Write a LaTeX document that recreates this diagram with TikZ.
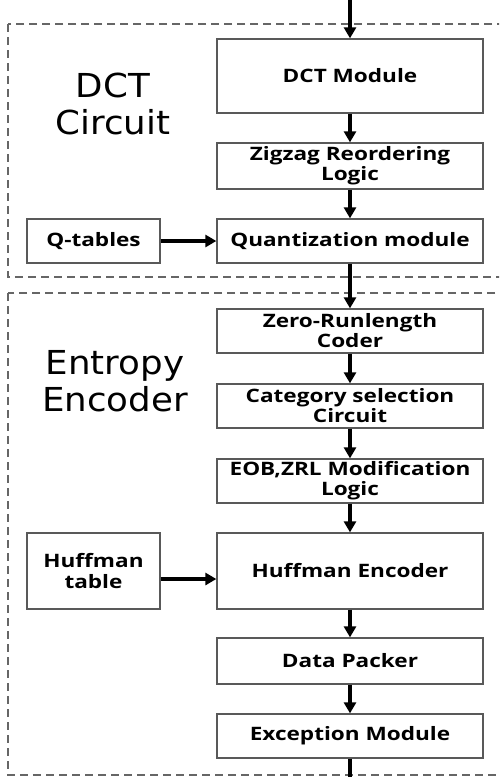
\documentclass[tikz,border=0pt]{standalone}
\usepackage{fontspec}
\setmainfont[FakeStretch=1.22]{Open Sans}
\newfontfamily\bigfont[FakeStretch=1.08]{DejaVu Sans}
\usetikzlibrary{arrows.meta}
\begin{document}
\begin{tikzpicture}[x=1pt,y=-1pt,
  blk/.style={draw=black!65, line width=1.3pt, minimum width=266pt, inner sep=0pt, align=center, font=\fontsize{18.5}{20}\selectfont\bfseries},
  side/.style={draw=black!65, line width=1.3pt, minimum width=133pt, inner sep=0pt, align=center, font=\fontsize{18.5}{21}\selectfont\bfseries},
  grp/.style={draw=black!60, line width=1.4pt, dash pattern=on 8pt off 5pt},
  arr/.style={line width=3.2pt, -{Triangle[length=11pt,width=12pt]}},
  lbl/.style={align=center, font=\fontsize{33}{37}\selectfont\bigfont}]
\useasboundingbox (0,0) rectangle (499,777);
\clip (0,0) rectangle (499,777);
\fill[white] (0,0) rectangle (499,777);
\draw[grp] (8,24) rectangle (530,277);
\draw[grp] (8,293) rectangle (530,775);
\node[lbl] (l1) at (113,104) {DCT\\Circuit};
\node[lbl] (l2) at (115,381) {Entropy\\Encoder};
\coordinate (in) at (350,0);
\coordinate (out) at (350,777);
\node[blk, minimum height=74pt] (dct) at (350,76) {DCT Module};
\node[blk, minimum height=46pt] (zig) at (350,166) {Zigzag Reordering\\Logic};
\node[blk, minimum height=44pt] (quant) at (350,241) {Quantization module};
\node[side, minimum height=44pt] (qt) at (93.5,241) {Q-tables};
\node[blk, minimum height=44pt] (zero) at (350,331) {Zero-Runlength\\Coder};
\node[blk, minimum height=44pt] (cat) at (350,406) {Category selection\\Circuit};
\node[blk, minimum height=44pt] (eob) at (350,481) {EOB,ZRL Modification\\Logic};
\node[blk, minimum height=76pt] (huff) at (350,571) {Huffman Encoder};
\node[side, minimum height=76pt] (ht) at (93.5,571) {Huffman\\table};
\node[blk, minimum height=46pt] (pack) at (350,661) {Data Packer};
\node[blk, minimum height=44pt] (exc) at (350,736) {Exception Module};
\draw[arr] (in) -- (dct.north);
\draw[arr] (dct) -- (zig);
\draw[arr] (zig) -- (quant);
\draw[arr] (qt) -- (quant);
\draw[arr] (quant) -- (zero);
\draw[arr] (zero) -- (cat);
\draw[arr] (cat) -- (eob);
\draw[arr] (eob) -- (huff);
\draw[arr] ([yshift=-8pt]ht.east) -- ([yshift=-8pt]huff.west);
\draw[arr] (huff) -- (pack);
\draw[arr] (pack) -- (exc);
\draw[line width=3.2pt] (exc) -- (out);
\end{tikzpicture}
\end{document}
